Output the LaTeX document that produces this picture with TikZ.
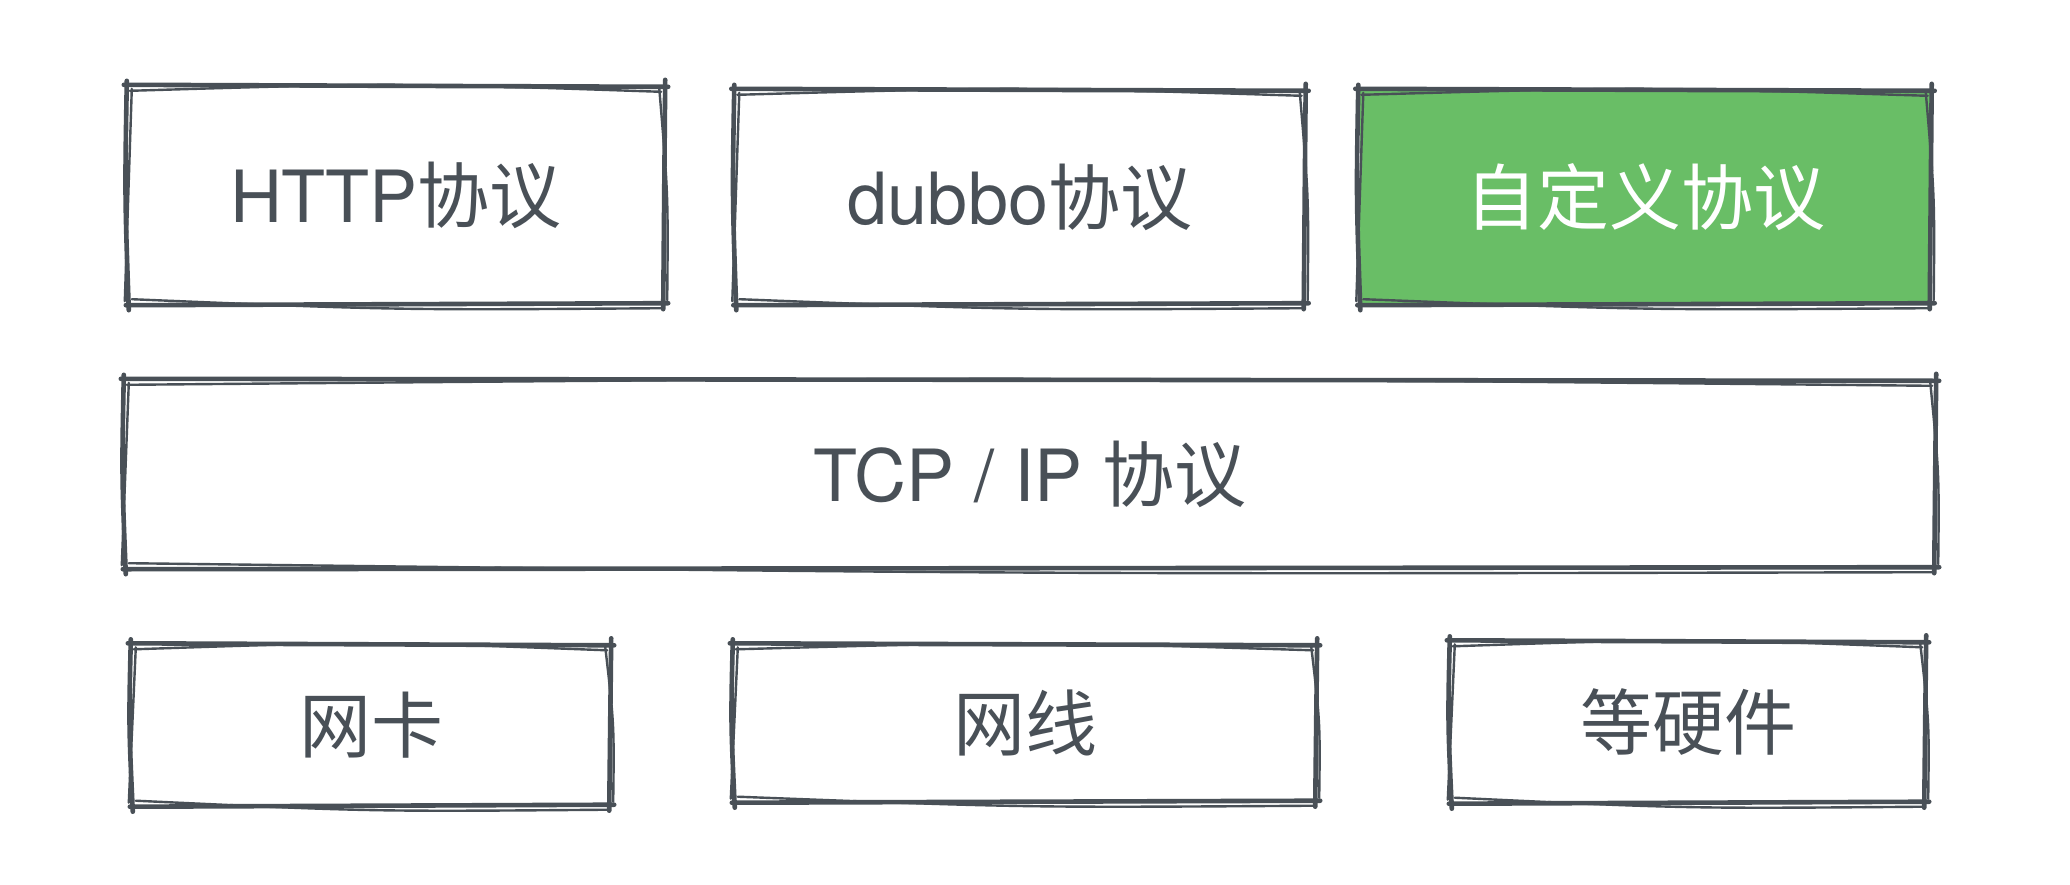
\documentclass[tikz,border=0pt]{standalone}
\usepackage{fontspec}
\setmainfont{TeX Gyre Heros}
\newfontfamily\cjk{Noto Sans CJK SC}
\definecolor{ink}{HTML}{495057}
\definecolor{grn}{HTML}{69BE66}
\tikzset{skA/.style={ink,line width=4.6pt,line cap=round},skB/.style={ink,line width=2.4pt,line cap=round}}
\newcommand\skbox[1]{%
  \draw[skA] ([shift={(-4pt,1pt)}]#1.north west) -- ([shift={(4pt,-1pt)}]#1.north east);
  \draw[skB] ([shift={(2pt,-5pt)}]#1.north west) .. controls ([shift={(0pt,3pt)}]#1.north) .. ([shift={(-3pt,-6pt)}]#1.north east);
  \draw[skA] ([shift={(-2pt,-1pt)}]#1.south west) -- ([shift={(4pt,1pt)}]#1.south east);
  \draw[skB] ([shift={(4pt,5pt)}]#1.south west) .. controls ([shift={(0pt,-6pt)}]#1.south) .. ([shift={(-2pt,-4pt)}]#1.south east);
  \draw[skA] ([shift={(-1pt,5pt)}]#1.north west) .. controls ([shift={(-3pt,0pt)}]#1.west) .. ([shift={(1pt,-6pt)}]#1.south west);
  \draw[skB] ([shift={(4pt,-3pt)}]#1.north west) -- ([shift={(-3pt,3pt)}]#1.south west);
  \draw[skA] ([shift={(1pt,6pt)}]#1.north east) -- ([shift={(-1pt,-5pt)}]#1.south east);
  \draw[skB] ([shift={(-5pt,-2pt)}]#1.north east) .. controls ([shift={(4pt,0pt)}]#1.east) .. ([shift={(3pt,4pt)}]#1.south east);
}
\begin{document}
\begin{tikzpicture}[x=1pt,y=-1pt,
  boxn/.style={draw=none,inner sep=0pt,text=ink,font=\fontsize{72}{80}\selectfont}]
\useasboundingbox[fill=white] (0,0) rectangle (2070,884);
\node[boxn,minimum width=536pt,minimum height=218pt] (http) at (396,195) {HTTP{\cjk 协议}};
\node[boxn,minimum width=569pt,minimum height=214pt] (dubbo) at (1020,197) {dubbo{\cjk 协议}};
\node[boxn,fill=grn,text=white,minimum width=571pt,minimum height=214pt] (custom) at (1645,197) {\cjk 自定义协议};
\node[boxn,minimum width=1810pt,minimum height=188pt] (tcp) at (1030,474) {TCP / IP {\cjk 协议}};
\node[boxn,minimum width=478pt,minimum height=161pt] (nic) at (371,725) {\cjk 网卡};
\node[boxn,minimum width=582pt,minimum height=157pt] (wire) at (1025,723) {\cjk 网线};
\node[boxn,minimum width=474pt,minimum height=161pt] (hw) at (1688,722) {\cjk 等硬件};
\skbox{http}
\skbox{dubbo}
\skbox{custom}
\skbox{tcp}
\skbox{nic}
\skbox{wire}
\skbox{hw}
\end{tikzpicture}
\end{document}
